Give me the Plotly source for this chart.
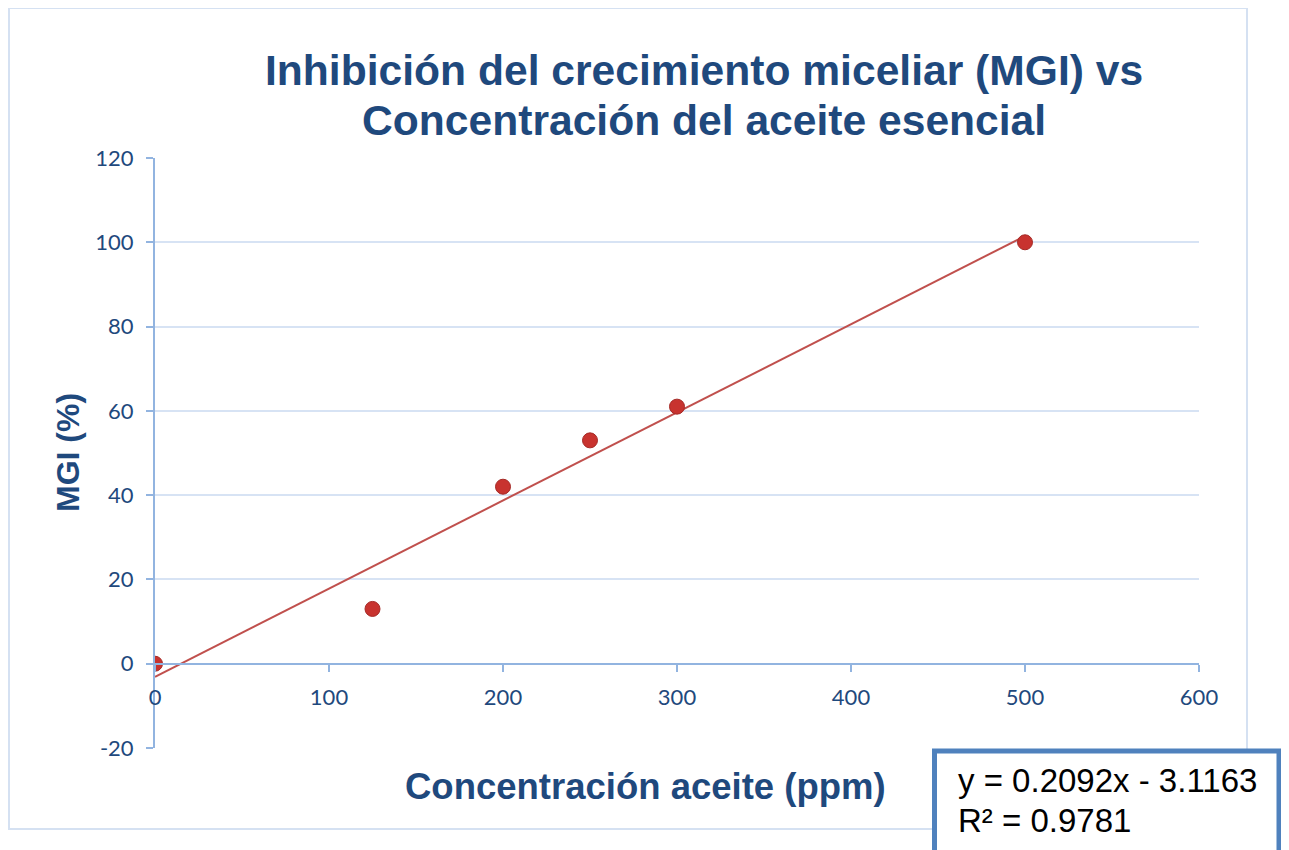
import plotly.graph_objects as go

# Data
concentracion = [0, 125, 200, 250, 300, 500]
mgi = [0, 13, 42, 53, 61, 100]
slope = 0.2092
intercept = -3.1163
r2 = 0.9781
trend_x = [0, 500]
trend_y = [slope * x + intercept for x in trend_x]
y_ticks = [-20, 0, 20, 40, 60, 80, 100, 120]
y_ticktext = ["-20", "0", "20", "40", "60", "80", "100", "120"]
x_ticks = [0, 100, 200, 300, 400, 500, 600]

OFF = 8  # page body margin
W, H = 1289 - OFF, 850 - OFF
L, R, T, B = 155, 1199, 158, 748  # screen pixel positions of plot area

def px(x):
    return (x - L) / (R - L)

def py(y):
    return (B - y) / (B - T)

DARK = "#1F497D"
GRID = "#D7E3F4"
AXIS = "#92B4E0"

fig = go.Figure()
fig.add_trace(go.Scatter(x=trend_x, y=trend_y, mode="lines",
                         line=dict(color="#C0504D", width=2), hoverinfo="skip",
                         showlegend=False))
fig.add_trace(go.Scatter(x=concentracion, y=mgi, mode="markers",
                         marker=dict(size=15, color="#C8332F",
                                     line=dict(color="#A52A26", width=1)),
                         showlegend=False))

fig.update_layout(
    width=W, height=H, autosize=False,
    margin=dict(l=L - OFF, r=W + OFF - R, t=T - OFF, b=H + OFF - B),
    paper_bgcolor="white", plot_bgcolor="white",
    font=dict(family="Lato", color=DARK),
    xaxis=dict(range=[0, 600], tickvals=x_ticks, showgrid=False, zeroline=False,
               showline=True, linecolor=AXIS, linewidth=2,
               ticks="outside", ticklen=7, tickcolor=AXIS, tickwidth=2,
               ticklabelstandoff=7,
               anchor="free", position=20 / 140,
               tickfont=dict(family="Lato", size=22, color=DARK)),
    yaxis=dict(range=[-20, 120], tickvals=y_ticks, ticktext=y_ticktext,
               showgrid=True, gridcolor=GRID, gridwidth=2, zeroline=False,
               showline=True, linecolor=AXIS, linewidth=2,
               ticks="outside", ticklen=7, tickcolor=AXIS, tickwidth=2,
               ticklabelstandoff=8,
               tickfont=dict(family="Lato", size=22, color=DARK)),
)

TF = "Liberation Sans"
ann = []
ann.append(dict(text="<b>Inhibición del crecimiento miceliar (MGI) vs</b>", x=px(704), y=py(70),
                xanchor="center", yanchor="middle", font=dict(family=TF, size=42.6, color=DARK)))
ann.append(dict(text="<b>Concentración del aceite esencial</b>", x=px(704), y=py(120),
                xanchor="center", yanchor="middle", font=dict(family=TF, size=42.6, color=DARK)))
ann.append(dict(text="<b>Concentración aceite (ppm)</b>", x=px(645), y=py(786),
                xanchor="center", yanchor="middle", font=dict(family=TF, size=36.5, color=DARK)))
ann.append(dict(text="<b>MGI (%)</b>", x=px(68), y=py(453), textangle=-90,
                xanchor="center", yanchor="middle", font=dict(family=TF, size=32, color=DARK)))
ann.append(dict(text=f"y = {slope}x - {abs(intercept)}", x=px(957), y=py(781),
                xanchor="left", yanchor="middle", borderpad=0,
                font=dict(family=TF, size=33, color="black")))
ann.append(dict(text=f"R² = {r2}", x=px(957), y=py(820),
                xanchor="left", yanchor="middle", borderpad=0,
                font=dict(family=TF, size=33, color="black")))
for a in ann:
    a.update(xref="paper", yref="paper", showarrow=False)
fig.update_layout(annotations=ann)

shapes = [
    dict(type="rect", xref="paper", yref="paper", x0=px(9), x1=px(1247), y0=py(829), y1=py(8),
         line=dict(color="#D5E1F2", width=2), fillcolor="rgba(0,0,0,0)", layer="below"),
    dict(type="rect", xref="paper", yref="paper", x0=px(934.5), x1=px(1279), y0=py(880), y1=py(751),
         line=dict(color="#4F81BD", width=5), fillcolor="white", layer="above"),
]
fig.update_layout(shapes=shapes)

fig.write_html("out.html")
